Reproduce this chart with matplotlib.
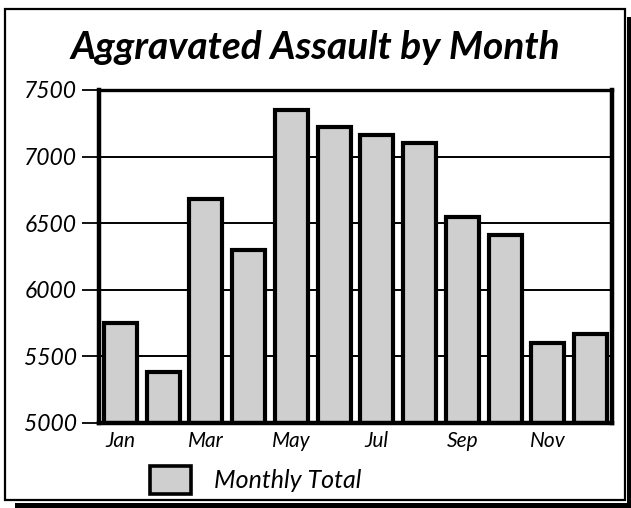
import matplotlib
matplotlib.use("Agg")
import matplotlib.pyplot as plt
from matplotlib.patches import Rectangle, Patch

months = ["Jan", "Feb", "Mar", "Apr", "May", "Jun", "Jul", "Aug", "Sep", "Oct", "Nov", "Dec"]
totals = [5750, 5385, 6680, 6300, 7350, 7220, 7160, 7100, 6545, 6410, 5600, 5670]
yticks = [5000, 5500, 6000, 6500, 7000, 7500]
xtick_labels = ["Jan", "Mar", "May", "Jul", "Sep", "Nov"]
title = "Aggravated Assault by Month"
legend_label = "Monthly Total"

plt.rcParams['font.family'] = ['Lato', 'DejaVu Sans']

W, H = 631, 508
fig = plt.figure(figsize=(W / 100, H / 100), dpi=100)
fig.patch.set_facecolor("white")

def fx(px):
    return px / W

def fy(py):
    return 1 - py / H

# outer frame with drop shadow
fig.add_artist(Rectangle((fx(627), fy(508)), fx(631) - fx(627), fy(17) - fy(508),
                         transform=fig.transFigure, facecolor="black", edgecolor="none"))
fig.add_artist(Rectangle((fx(15), fy(508)), fx(631) - fx(15), fy(503) - fy(508),
                         transform=fig.transFigure, facecolor="black", edgecolor="none"))
fig.add_artist(Rectangle((fx(5), fy(500)), fx(625) - fx(5), fy(9) - fy(500),
                         transform=fig.transFigure, facecolor="none", edgecolor="black", linewidth=1.6))

ax = fig.add_axes([fx(99), fy(423), fx(612) - fx(99), fy(90) - fy(423)])
x = list(range(len(months)))
ax.set_axisbelow(True)
bars = ax.bar(x, totals, width=0.77, color="#cfcfcf", edgecolor="black", linewidth=3.0,
              label=legend_label, zorder=3)
ax.set_xlim(-0.5, 11.5)
ax.set_ylim(5000, 7500)
ax.set_yticks(yticks)
ax.set_yticklabels([str(v) for v in yticks], fontsize=16.5, style="italic")
ax.set_xticks([x[months.index(m)] for m in xtick_labels])
ax.set_xticklabels(xtick_labels, fontsize=15, style="italic")
ax.tick_params(axis="x", length=0, pad=6)
ax.tick_params(axis="y", length=12, width=1.3, pad=4, direction="out")
for y in yticks[1:-1]:
    ax.axhline(y, color="black", linewidth=1.4, zorder=1)
for side, lw in [("left", 3.2), ("bottom", 3.2), ("right", 3.2), ("top", 2.4)]:
    ax.spines[side].set_linewidth(lw)
    ax.spines[side].set_zorder(4)

fig.text(fx(315), fy(47), title, ha="center", va="center", fontsize=28,
         fontweight="bold", style="italic")

leg = fig.legend(handles=[Patch(facecolor="#cfcfcf", edgecolor="black", linewidth=2.6, label=legend_label)],
                 loc="center left", bbox_to_anchor=(fx(132), fy(480)), frameon=False,
                 prop={"size": 18, "style": "italic"}, handlelength=1.65, handleheight=1.3,
                 handletextpad=0.95, borderpad=0.2)

fig.savefig("out.png", dpi=100)
